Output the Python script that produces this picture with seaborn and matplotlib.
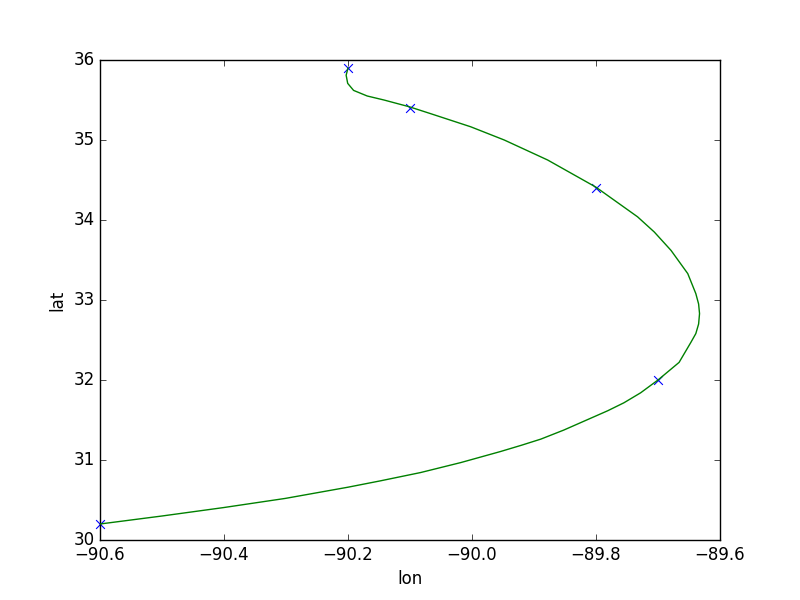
import matplotlib
matplotlib.use("Agg")
import matplotlib.pyplot as plt
import seaborn as sns
import pandas as pd

# Measured points (markers)
pt_lon = [-90.6, -89.7, -89.8, -90.1, -90.2]
pt_lat = [30.2, 32.0, 34.4, 35.4, 35.9]

# Smooth track
curve_lon = [-90.6, -90.5, -90.401, -90.301, -90.2, -90.148, -90.083, -90.018, -89.954,
             -89.92, -89.889, -89.852, -89.781, -89.755, -89.728, -89.700, -89.666,
             -89.647, -89.639, -89.6345, -89.633, -89.6345, -89.639, -89.652, -89.679,
             -89.706, -89.733, -89.800, -89.878, -89.948, -90.002, -90.067, -90.101,
             -90.142, -90.169, -90.191, -90.2005, -90.203, -90.2]
curve_lat = [30.2, 30.30, 30.405, 30.52, 30.66, 30.739, 30.843, 30.968, 31.106,
             31.185, 31.261, 31.374, 31.616, 31.715, 31.84, 32.0, 32.22,
             32.47, 32.58, 32.70, 32.83, 32.95, 33.08, 33.33, 33.62,
             33.85, 34.04, 34.41, 34.75, 35.0, 35.165, 35.33, 35.415,
             35.50, 35.55, 35.62, 35.708, 35.81, 35.9]

plt.style.use("classic")
plt.rcParams["font.family"] = ["DejaVu Sans"]

fig = plt.figure(figsize=(8, 6), dpi=100)
fig.patch.set_facecolor("white")
ax = fig.add_axes([0.125, 0.1, 0.775, 0.8])

pts = pd.DataFrame({"lon": pt_lon, "lat": pt_lat})
cur = pd.DataFrame({"lon": curve_lon, "lat": curve_lat})

sns.scatterplot(data=pts, x="lon", y="lat", marker="x", color="b", s=40,
                linewidth=0.8, ax=ax, zorder=2, clip_on=False)
sns.lineplot(data=cur, x="lon", y="lat", sort=False, estimator=None, color="g",
             linewidth=1, ax=ax, zorder=3)

ax.set_xlim(-90.6, -89.6)
ax.set_ylim(30, 36)
ax.set_xticks([-90.6, -90.4, -90.2, -90.0, -89.8, -89.6])
ax.set_yticks([30, 31, 32, 33, 34, 35, 36])
ax.ticklabel_format(useOffset=False)
ax.set_xlabel("lon")
ax.set_ylabel("lat")

fig.savefig("out.png", dpi=100, facecolor="white")
